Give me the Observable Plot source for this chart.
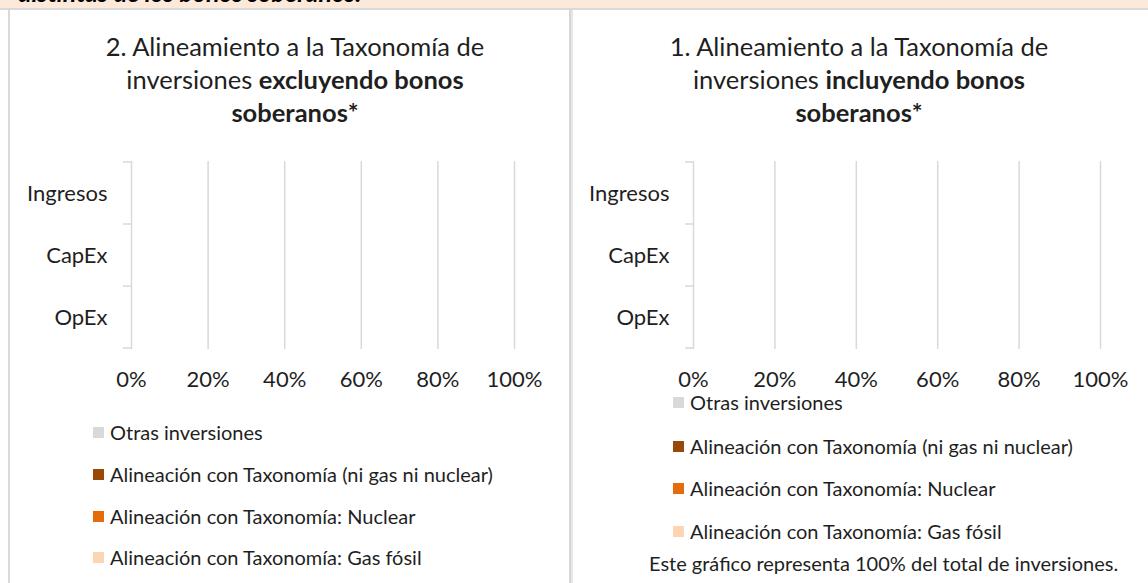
<!DOCTYPE html>
<html><head><meta charset="utf-8">
<script src="https://cdn.jsdelivr.net/npm/d3@7"></script>
<script src="https://cdn.jsdelivr.net/npm/@observablehq/plot@0.6"></script>
<style>
html,body{margin:0;padding:0;background:#fff;}
#root{position:relative;width:1148px;height:583px;overflow:hidden;font-family:Lato,sans-serif;color:#1f1f1f;}
.abs{position:absolute;}
.title{position:absolute;width:560px;text-align:center;font-size:25.5px;line-height:33px;}
.row{position:absolute;display:flex;align-items:center;white-space:nowrap;height:20px;line-height:20px;font-size:20px;}
.sw{width:11px;height:11px;margin-right:6px;flex:none;}
.cap{position:absolute;white-space:nowrap;font-size:20px;line-height:20px;}
</style></head><body><div id="root"></div>
<script>
// ---- data ----
const categories = ["Ingresos", "CapEx", "OpEx"];
const seriesNames = [
  "Otras inversiones",
  "Alineación con Taxonomía (ni gas ni nuclear)",
  "Alineación con Taxonomía: Nuclear",
  "Alineación con Taxonomía: Gas fósil"
];
const seriesColors = ["#d9d9d9", "#984807", "#e46c0a", "#fcd5b5"];
const xTicks = [0, 0.2, 0.4, 0.6, 0.8, 1];
// values (share of investments) per category: Ingresos, CapEx, OpEx — no bars are drawn in the chart
const exclOtras   = [0, 0, 0];
const exclNiGasNi = [0, 0, 0];
const exclNuclear = [0, 0, 0];
const exclGas     = [0, 0, 0];
const inclOtras   = [0, 0, 0];
const inclNiGasNi = [0, 0, 0];
const inclNuclear = [0, 0, 0];
const inclGas     = [0, 0, 0];
const headerText = "distintas de los bonos soberanos.";
const titleExcl = ["2. Alineamiento a la Taxonomía de", "inversiones ", "excluyendo bonos", "soberanos*"];
const titleIncl = ["1. Alineamiento a la Taxonomía de", "inversiones ", "incluyendo bonos", "soberanos*"];
const captionText = "Este gráfico representa 100% del total de inversiones.";

// ---- layout ----
const root = document.getElementById("root");
const grid = "#d9d9d9";
function el(tag, cls, style, html) {
  const e = document.createElement(tag);
  if (cls) e.className = cls;
  Object.assign(e.style, style || {});
  if (html != null) e.innerHTML = html;
  root.appendChild(e);
  return e;
}
// header band (text of the previous block, cut off at the top edge as in the original)
const hb = el("div", "abs", {left: "0px", top: "0px", width: "1148px", height: "8px", background: "#fde9d9", overflow: "hidden"});
const ht = document.createElement("div");
Object.assign(ht.style, {position: "absolute", left: "18px", top: "-20px", fontSize: "25px", lineHeight: "25px", fontWeight: "bold", fontStyle: "italic", color: "#000", whiteSpace: "nowrap"});
ht.textContent = headerText;
hb.appendChild(ht);
el("div", "abs", {left: "0px", top: "8px", width: "1148px", height: "2px", background: grid});
el("div", "abs", {left: "8px", top: "10px", width: "2px", height: "573px", background: grid});
el("div", "abs", {left: "569px", top: "10px", width: "2px", height: "573px", background: "#d6d6d6"});
el("div", "abs", {left: "571px", top: "10px", width: "2px", height: "573px", background: "#e6e6e6"});

function makeTitle(lines, cx) {
  el("div", "title", {left: (cx - 280) + "px", top: "30px"},
    lines[0] + "<br>" + lines[1] + "<b>" + lines[2] + "</b><br><b>" + lines[3] + "</b>");
}
makeTitle(titleExcl, 295);
makeTitle(titleIncl, 859);

function makePlot(series, left, width, mLeft, mRight) {
  const rows = [];
  series.forEach((vals, si) => categories.forEach((c, ci) =>
    rows.push({category: c, series: seriesNames[si], value: vals[ci]})));
  const plot = Plot.plot({
    width, height: 250,
    marginLeft: mLeft, marginRight: mRight, marginTop: 11, marginBottom: 51,
    style: {fontFamily: "Lato, sans-serif", fontSize: "22px", color: "#1f1f1f", background: "transparent", overflow: "visible"},
    x: {domain: [0, 1]},
    y: {domain: categories, padding: 0},
    color: {domain: seriesNames, range: seriesColors},
    marks: [
      Plot.ruleX(xTicks.slice(1), {stroke: grid, strokeWidth: 1.5}),
      Plot.ruleX([0], {stroke: grid, strokeWidth: 1.5}),
      Plot.barX(rows, Plot.stackX({x: "value", y: "category", fill: "series", order: seriesNames})),
      Plot.axisY({tickSize: 0, tickPadding: 24, label: null, fontSize: 22}),
      Plot.axisX({ticks: xTicks, tickSize: 0, tickPadding: 22, tickFormat: d3.format(".0%"), label: null, fontSize: 22})
    ]
  });
  const ys = plot.scale("y"), xs = plot.scale("x");
  const x0 = xs.apply(0);
  const bounds = categories.map(c => ys.apply(c));
  bounds.push(ys.apply(categories[categories.length - 1]) + ys.bandwidth);
  d3.select(plot).append("g").attr("stroke", grid).attr("stroke-width", 1.5)
    .selectAll("line").data(bounds).join("line")
    .attr("x1", x0 - 8).attr("x2", x0).attr("y1", d => d).attr("y2", d => d);
  plot.style.position = "absolute";
  plot.style.left = left + "px";
  plot.style.top = "150px";
  root.appendChild(plot);
}
makePlot([exclOtras, exclNiGasNi, exclNuclear, exclGas], 0, 570, 131, 56);
makePlot([inclOtras, inclNiGasNi, inclNuclear, inclGas], 573, 575, 120, 48);

function makeLegend(x, ys) {
  seriesNames.forEach((name, i) => {
    const r = el("div", "row", {left: x + "px", top: (ys[i] - 10) + "px"});
    const s = document.createElement("span"); s.className = "sw"; s.style.background = seriesColors[i];
    const t = document.createElement("span"); t.textContent = name;
    r.appendChild(s); r.appendChild(t);
  });
}
makeLegend(93, [432, 474, 516, 557]);
makeLegend(673, [402, 446, 488, 531]);
el("div", "cap", {left: "649px", top: "553px"}, captionText);
</script></body></html>
